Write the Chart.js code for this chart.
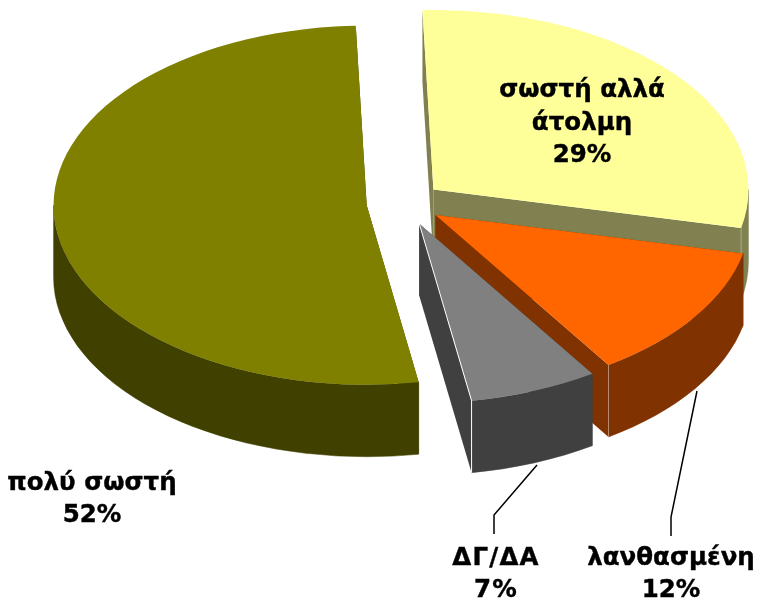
<!DOCTYPE html>
<html>
<head>
<meta charset="utf-8">
<style>html,body{margin:0;padding:0;background:#fff}canvas{display:block}</style>
<script src="https://cdn.jsdelivr.net/npm/chart.js@4/dist/chart.umd.min.js"></script>
</head>
<body>
<canvas id="c" width="760" height="606"></canvas>
<script>
const categories = ['σωστή αλλά άτολμη', 'λανθασμένη', 'ΔΓ/ΔΑ', 'πολύ σωστή'];
const values = [29, 12.3, 6.6, 52.1];
const labelLines = [['σωστή αλλά', 'άτολμη', '29%'], ['λανθασμένη', '12%'], ['ΔΓ/ΔΑ', '7%'], ['πολύ σωστή', '52%']];

const colors = ['#FFFF99', '#FF6600', '#808080', '#808000'];
const sideColors = ['#808050', '#803300', '#404040', '#404000'];
const drawOrder = [0, 3, 1, 2];
const view = { tilt: 0.57, depth: 72, radius: 315 };
const explode = [37, 37, 39, 38.5];
const widthScale = [1, 1, 1, 0.994];
const labelSpots = [
  { x: 582, y: 91, gap: 32.5 }, { x: 671, y: 559, gap: 32 }, { x: 496, y: 559, gap: 32 }, { x: 92, y: 484, gap: 32 }
];
const labelSpacing = ['0px', '0px', '1.2px', '0px'];
const leaders = [null, [[671, 536], [671, 517], [697, 391]], [[494, 534], [494, 515], [537, 465]], null];
const cornerLines = ['rgba(255,255,255,0.3)', 'rgba(255,255,255,0.35)', '#ffffff', null];

const pie3d = {
  id: 'pie3d',
  beforeDatasetDraw(chart, args) {
    const ctx = chart.ctx;
    const arcs = chart.getDatasetMeta(args.index).data;
    drawOrder.forEach(i => {
      const arc = arcs[i];
      const mid = (arc.startAngle + arc.endAngle) / 2;
      const X = arc.x + Math.cos(mid) * explode[i];
      const Y = arc.y + Math.sin(mid) * explode[i] * view.tilt;
      const rx = arc.outerRadius * widthScale[i], ry = arc.outerRadius * view.tilt, D = view.depth;
      const a0 = arc.startAngle, a1 = arc.endAngle;
      const pt = a => [X + Math.cos(a) * rx, Y + Math.sin(a) * ry];

      ctx.save();
      ctx.fillStyle = sideColors[i];
      ctx.strokeStyle = sideColors[i];
      ctx.lineWidth = 0.5;
      [a0, a1].forEach(a => {
        const p = pt(a);
        ctx.beginPath();
        ctx.moveTo(X, Y);
        ctx.lineTo(p[0], p[1]);
        ctx.lineTo(p[0], p[1] + D);
        ctx.lineTo(X, Y + D);
        ctx.closePath();
        ctx.fill();
      });
      const lo = Math.max(a0, 0), hi = Math.min(a1, Math.PI);
      if (hi > lo) {
        ctx.beginPath();
        ctx.ellipse(X, Y, rx, ry, 0, lo, hi);
        ctx.ellipse(X, Y + D, rx, ry, 0, hi, lo, true);
        ctx.closePath();
        ctx.fill();
        ctx.stroke();
      }
      ctx.restore();

      ctx.save();
      ctx.translate(X, Y);
      ctx.scale(widthScale[i], view.tilt);
      ctx.translate(-arc.x, -arc.y);
      arc.draw(ctx);
      ctx.restore();

      if (cornerLines[i]) {
        const p = pt(a1);
        ctx.save();
        ctx.strokeStyle = cornerLines[i];
        ctx.lineWidth = 1;
        ctx.beginPath();
        ctx.moveTo(p[0], p[1]);
        ctx.lineTo(p[0], p[1] + D);
        if (i === 2) { ctx.moveTo(p[0], p[1]); ctx.lineTo(X, Y); }
        ctx.stroke();
        ctx.restore();
      }
    });
    return false;
  },
  afterDraw(chart) {
    const ctx = chart.ctx;
    ctx.save();
    ctx.strokeStyle = '#000';
    ctx.lineWidth = 1.5;
    leaders.forEach(path => {
      if (!path) return;
      ctx.beginPath();
      path.forEach((p, k) => k ? ctx.lineTo(p[0], p[1]) : ctx.moveTo(p[0], p[1]));
      ctx.stroke();
    });
    ctx.fillStyle = '#000';
    ctx.strokeStyle = '#000';
    ctx.lineWidth = 0.4;
    ctx.font = 'bold 24.5px "DejaVu Sans"';
    ctx.textAlign = 'center';
    ctx.textBaseline = 'middle';
    labelLines.forEach((lines, i) => {
      ctx.letterSpacing = labelSpacing[i];
      lines.forEach((t, k) => {
        const y = labelSpots[i].y + k * labelSpots[i].gap;
        ctx.fillText(t, labelSpots[i].x, y);
        ctx.strokeText(t, labelSpots[i].x, y);
      });
    });
    ctx.restore();
  }
};

new Chart(document.getElementById('c'), {
  type: 'pie',
  data: {
    labels: categories,
    datasets: [{ data: values, backgroundColor: colors, borderWidth: 0, radius: view.radius }]
  },
  options: {
    responsive: false,
    animation: false,
    rotation: -2,
    layout: { padding: { left: 50, bottom: 200 } },
    plugins: { legend: { display: false }, tooltip: { enabled: false } }
  },
  plugins: [pie3d]
});
</script>
</body>
</html>
